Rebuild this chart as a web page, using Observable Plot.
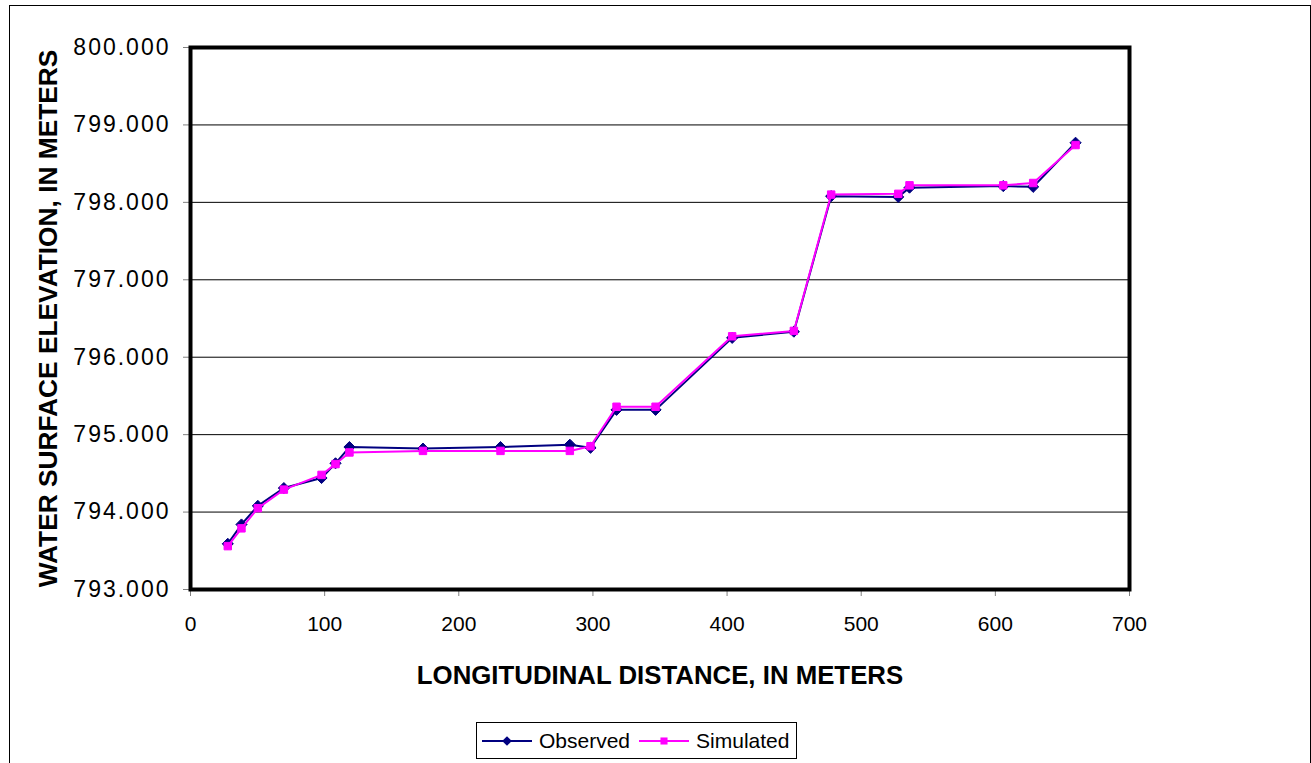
<!DOCTYPE html>
<html>
<head>
<meta charset="utf-8">
<script src="https://cdn.jsdelivr.net/npm/d3@7"></script>
<script src="https://cdn.jsdelivr.net/npm/@observablehq/plot@0.6"></script>
<style>
  html, body { margin: 0; padding: 0; overflow: hidden; background: #fff; }
  body { font-family: "Liberation Sans", Arial, sans-serif; position: relative; width: 1311px; height: 763px; }
  #outer { position: absolute; left: 9px; top: 5px; width: 1302px; height: 900px; border: 1px solid #000; box-sizing: border-box; pointer-events: none; }
  #chart svg { display: block; }
  #chart g[aria-label="y-axis tick label"] text { letter-spacing: 2px; }
  #legend { position: absolute; left: 476px; top: 722px; width: 321px; height: 37px; border: 1px solid #000; box-sizing: border-box; display: flex; align-items: center; font-size: 21px; color: #000; }
  .item { display: flex; align-items: center; }
  .item svg { display: block; }
</style>
</head>
<body>
<div id="outer"></div>
<div id="chart"></div>
<div id="legend"></div>
<script>
// Longitudinal distance (m)
const distance = [27.8, 38.0, 50.2, 69.6, 97.7, 108.1, 118.5, 173.3, 231.1, 282.8, 298.2, 317.6, 346.7, 403.8, 449.8, 477.6, 527.6, 536.0, 605.9, 628.2, 659.8];
// Water surface elevation (m)
const observed  = [793.59, 793.84, 794.08, 794.31, 794.44, 794.63, 794.84, 794.82, 794.84, 794.87, 794.83, 795.32, 795.32, 796.25, 796.33, 798.08, 798.07, 798.19, 798.21, 798.20, 798.77];
const simulated = [793.56, 793.79, 794.05, 794.29, 794.48, 794.62, 794.77, 794.79, 794.79, 794.79, 794.85, 795.36, 795.36, 796.27, 796.34, 798.10, 798.11, 798.22, 798.22, 798.25, 798.74];
const seriesNames = ["Observed", "Simulated"];
const yTicks = [793, 794, 795, 796, 797, 798, 799, 800];
const xTicks = [0, 100, 200, 300, 400, 500, 600, 700];
const xTitle = "LONGITUDINAL DISTANCE, IN METERS";
const yTitle = "WATER SURFACE ELEVATION, IN METERS";

const obsData = distance.map((d, i) => ({x: d, y: observed[i]}));
const simData = distance.map((d, i) => ({x: d, y: simulated[i]}));

const navy = "#000080", magenta = "#FF00FF";
const font = "'Liberation Sans', Arial, sans-serif";

const chart = Plot.plot({
  width: 1311,
  height: 712,
  marginLeft: 190,
  marginRight: 182,
  marginTop: 47,
  marginBottom: 123,
  style: {fontFamily: font, fontSize: "21px", background: "transparent", overflow: "visible"},
  x: {domain: [0, 700]},
  y: {domain: [793, 800]},
  marks: [
    Plot.ruleY(yTicks.slice(1, -1), {stroke: "#000", strokeWidth: 1}),
    Plot.axisY({ticks: yTicks, tickFormat: d3.format(".3f"), tickSize: 7, tickPadding: 13, stroke: "#808080", fill: "#000", fontSize: 23, label: null}),
    Plot.axisX({ticks: xTicks, tickFormat: d => String(d), tickSize: 7, tickPadding: 20, stroke: "#808080", fill: "#000", fontSize: 21, label: null}),
    Plot.frame({stroke: "#000", strokeWidth: 4}),
    Plot.line(obsData, {x: "x", y: "y", stroke: navy, strokeWidth: 2}),
    Plot.dot(obsData, {x: "x", y: "y", symbol: "diamond2", r: 5, fill: navy, stroke: navy, strokeWidth: 1}),
    Plot.line(simData, {x: "x", y: "y", stroke: magenta, strokeWidth: 2}),
    Plot.dot(simData, {x: "x", y: "y", symbol: "square", r: 4.2, fill: magenta, stroke: magenta, strokeWidth: 1}),
    Plot.text([xTitle], {frameAnchor: "bottom", dy: 86, text: d => d, fontWeight: "bold", fontSize: 25.8, fill: "#000", lineAnchor: "middle", textAnchor: "middle"}),
    Plot.text([yTitle], {frameAnchor: "left", dx: -142, text: d => d, rotate: -90, fontWeight: "bold", fontSize: 26.3, fill: "#000", lineAnchor: "middle", textAnchor: "middle"})
  ]
});
document.getElementById("chart").appendChild(chart);

// Legend
const legend = d3.select("#legend");
const styles = [
  {name: seriesNames[0], color: navy, symbol: d3.symbolDiamond2, size: 60},
  {name: seriesNames[1], color: magenta, symbol: d3.symbolSquare, size: 50}
];
styles.forEach((s, i) => {
  const item = legend.append("div").attr("class", "item").style("margin-left", i === 0 ? "4px" : "8px");
  const sv = item.append("svg").attr("width", 52).attr("height", 20);
  sv.append("line").attr("x1", 1).attr("x2", 51).attr("y1", 10).attr("y2", 10).attr("stroke", s.color).attr("stroke-width", 2);
  sv.append("path").attr("d", d3.symbol(s.symbol, s.size)()).attr("transform", "translate(26,10)").attr("fill", s.color);
  item.append("span").text(s.name).style("margin-left", "6px");
});
</script>
</body>
</html>
